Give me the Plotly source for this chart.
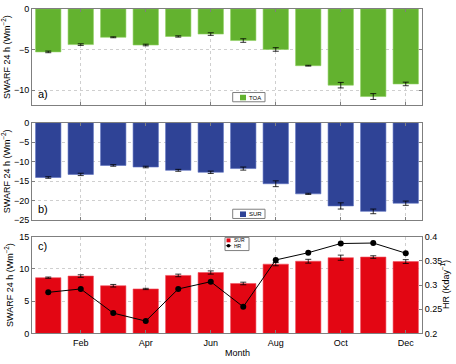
import plotly.graph_objects as go

months = ["Jan", "Feb", "Mar", "Apr", "May", "Jun", "Jul", "Aug", "Sep", "Oct", "Nov", "Dec"]
month_idx = list(range(1, 13))

toa = [-5.3, -4.4, -3.5, -4.45, -3.4, -3.1, -3.9, -5.0, -7.0, -9.4, -10.8, -9.25]
toa_err = [0.1, 0.1, 0.06, 0.1, 0.08, 0.16, 0.22, 0.22, 0.05, 0.34, 0.36, 0.22]

sur = [-14.1, -13.3, -11.0, -11.4, -12.25, -12.75, -11.8, -15.7, -18.3, -21.4, -22.8, -20.7]
sur_err = [0.2, 0.3, 0.2, 0.2, 0.25, 0.3, 0.4, 0.75, 0.15, 0.8, 0.6, 0.55]

sur_c = [8.65, 8.9, 7.4, 6.9, 9.0, 9.45, 7.75, 10.75, 11.2, 11.75, 11.85, 11.15]
sur_c_err = [0.1, 0.2, 0.2, 0.1, 0.2, 0.25, 0.2, 0.25, 0.3, 0.4, 0.2, 0.3]

hr = [0.285, 0.292, 0.242, 0.2255, 0.292, 0.307, 0.255, 0.352, 0.367, 0.386, 0.387, 0.366]

tick_months = [2, 4, 6, 8, 10, 12]
tick_text = [months[m - 1] for m in tick_months]

GREEN = "#63b22f"
BLUE = "#2f4396"
RED = "#e30613"
FRAME = "#7f7f7f"
GRID = "#cfcfcf"
FONT = "Liberation Sans, Arial, sans-serif"
W, H = 456, 364

def px(x):
    return x / W

def py(y):
    return 1 - y / H

fig = go.Figure()

err_style = dict(type="data", thickness=0.8, width=3, color="black")

fig.add_trace(go.Bar(
    x=month_idx, y=toa, error_y=dict(array=toa_err, **err_style),
    marker=dict(color=GREEN, line=dict(color="#8fd060", width=0.6)),
    width=0.78, name="TOA", xaxis="x", yaxis="y"))

fig.add_trace(go.Bar(
    x=month_idx, y=sur, error_y=dict(array=sur_err, **err_style),
    marker=dict(color=BLUE, line=dict(color="#5b6fc0", width=0.6)),
    width=0.78, name="SUR", xaxis="x2", yaxis="y2"))

fig.add_trace(go.Bar(
    x=month_idx, y=sur_c, error_y=dict(array=sur_c_err, **err_style),
    marker=dict(color=RED, line=dict(color="#f05060", width=0.6)),
    width=0.78, name="SUR", xaxis="x3", yaxis="y3"))

fig.add_trace(go.Scatter(
    x=month_idx, y=hr, mode="lines+markers",
    line=dict(color="black", width=1),
    marker=dict(color="black", size=6),
    name="HR", xaxis="x3", yaxis="y4"))

xdom = [px(32), px(422)]

def ydom(top_px, bot_px):
    return [py(bot_px), py(top_px)]

tf = dict(size=9, color="black", family=FONT)

common_x = dict(
    domain=xdom, range=[0.5, 12.5], tickvals=tick_months, ticktext=tick_text,
    showgrid=True, gridcolor=GRID, griddash="dot", gridwidth=1,
    showline=True, linecolor=FRAME, linewidth=1, mirror="ticks",
    ticks="inside", ticklen=3, tickcolor=FRAME,
    tickfont=tf, zeroline=False)

common_y = dict(
    showgrid=True, gridcolor=GRID, griddash="dot", gridwidth=1,
    showline=True, linecolor=FRAME, linewidth=1, mirror="ticks",
    ticks="inside", ticklen=3, tickcolor=FRAME,
    tickfont=tf, zeroline=False,
    title=dict(text="SWARF 24 h (Wm<sup>−2</sup>)", font=tf, standoff=4))

fig.update_layout(
    width=W, height=H,
    margin=dict(l=0, r=0, t=0, b=0),
    paper_bgcolor="white", plot_bgcolor="white",
    font=dict(family=FONT, size=9, color="black"),
    showlegend=False,
    xaxis=dict(common_x, anchor="y", showticklabels=False),
    yaxis=dict(common_y, domain=ydom(4, 103.3), range=[-11.9, 0], tickvals=[0, -5, -10]),
    xaxis2=dict(common_x, anchor="y2", showticklabels=False),
    yaxis2=dict(common_y, domain=ydom(121, 221), range=[-25, 0], tickvals=[0, -5, -10, -15, -20, -25]),
    xaxis3=dict(common_x, anchor="y3", mirror=True, ticklabelstandoff=1),
    yaxis3=dict(common_y, domain=ydom(238.3, 337.7), range=[0, 15], tickvals=[0, 5, 10, 15], mirror=False),
    yaxis4=dict(overlaying="y3", side="right", range=[0.2, 0.4],
                tickvals=[0.2, 0.25, 0.3, 0.35, 0.4],
                showgrid=False, showline=True, linecolor=FRAME, linewidth=1,
                ticks="inside", ticklen=3, tickcolor=FRAME, zeroline=False,
                tickfont=tf),
)

# x axis title
fig.add_annotation(text="Month", x=px(237), y=py(358), xref="paper", yref="paper",
                   showarrow=False, font=tf, xanchor="center", yanchor="middle")

# right axis title
fig.add_annotation(text="HR (Kday<sup>−1</sup>)", x=px(453), y=py(288), xref="paper", yref="paper",
                   textangle=-90, showarrow=False, font=tf, xanchor="right", yanchor="middle")

# panel labels
for txt, xp, yp in [("a)", 36, 92), ("b)", 36, 210), ("c)", 36, 248)]:
    fig.add_annotation(text=txt, x=px(xp), y=py(yp), xref="paper", yref="paper",
                       xanchor="left", yanchor="middle", showarrow=False,
                       font=dict(size=11, family=FONT, color="black"))

def rect(x0, y0, x1, y1, fill, line_color=None, lw=0):
    fig.add_shape(type="rect", xref="paper", yref="paper",
                  x0=px(x0), x1=px(x1), y0=py(y1), y1=py(y0),
                  fillcolor=fill, line=dict(color=line_color or fill, width=lw))

def label(txt, x, y, size=6):
    fig.add_annotation(text=txt, x=px(x), y=py(y), xref="paper", yref="paper",
                       xanchor="left", yanchor="middle", showarrow=False,
                       font=dict(size=size, family=FONT, color="black"))

# legend a
rect(232.7, 90, 265, 99.5, "white", FRAME, 1)
rect(240, 92.3, 246, 98, GREEN)
label("TOA", 247, 95.3)
# legend b
rect(232.7, 210, 265, 219.5, "white", FRAME, 1)
rect(240, 212.3, 246, 218, BLUE)
label("SUR", 247, 215.3)
# legend c
rect(225, 239, 249, 252.5, "white", FRAME, 1)
rect(226.5, 240, 230.5, 244, RED)
label("SUR", 231.5, 242, 5)
fig.add_shape(type="circle", xref="paper", yref="paper",
              x0=px(226.7), x1=px(230.3), y0=py(249.3), y1=py(245.7),
              fillcolor="black", line=dict(color="black", width=0))
fig.add_shape(type="line", xref="paper", yref="paper",
              x0=px(225.8), x1=px(231.2), y0=py(247.5), y1=py(247.5),
              line=dict(color="black", width=0.8))
label("HR", 231.5, 247.5, 5)

fig.write_html(
    "out.html",
    config={"displayModeBar": False},
    post_script="document.body.style.margin='0';document.body.style.padding='0';document.body.style.overflow='hidden';",
)
